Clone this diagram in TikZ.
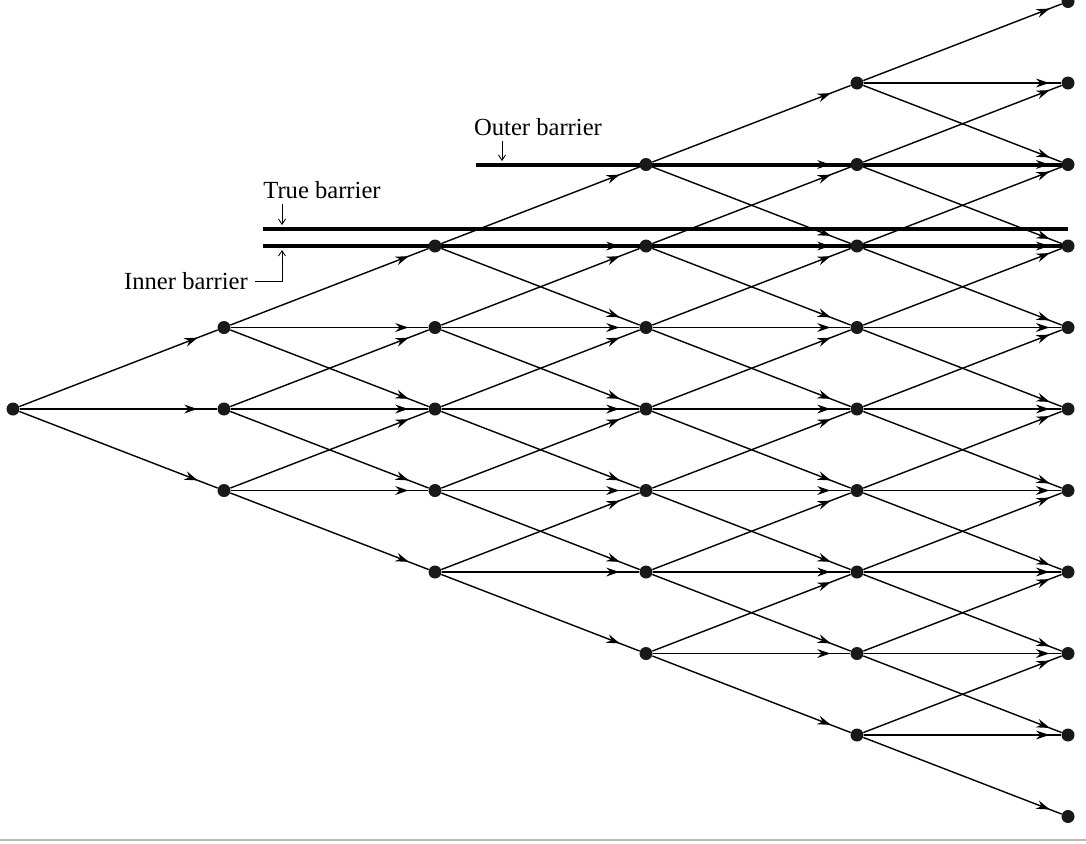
\documentclass[tikz,border=0pt]{standalone}
\usepackage{fontspec}
\setmainfont{Liberation Serif}
\usetikzlibrary{arrows.meta,decorations.markings}
\tikzset{
  dot/.style={circle,fill=black!90,inner sep=0pt,minimum size=0.26cm},
  branch/.style={line width=0.8pt,postaction={decorate},
    decoration={markings,mark=at position #1 with {\arrow{Stealth[length=7.5pt,width=5pt]}}}},
  branch/.default=0.9,
  barrier/.style={line width=2.3pt},
  tag/.style={font=\fontsize{14}{16}\selectfont,inner sep=1pt},
  tagarrow/.style={line width=0.5pt,-{Straight Barb[length=3pt,width=4pt]}}
}
\begin{document}
\begin{tikzpicture}[x=0.02cm,y=-0.02cm]
\useasboundingbox (0,0) rectangle (1086,843);
% barriers
\draw[barrier] (476,165) -- (1068,165);
\draw[barrier] (263,229) -- (1068,229);
\draw[barrier] (263,246) -- (1068,246);
\coordinate (ob) at (502,161); \coordinate (tb) at (282,225); \coordinate (ib) at (282,250);
\node[tag] (outer) at (538,127) {Outer barrier};
\node[tag] (true) at (322,190) {True barrier};
\node[tag] (inner) at (186,281) {Inner barrier};
\draw[tagarrow] ([yshift=-2pt]ob |- outer.south) -- (ob);
\draw[tagarrow] ([yshift=-2pt]tb |- true.south) -- (tb);
\draw[tagarrow] ([xshift=3pt]inner.east) -| (ib);
% tree
\foreach \i in {0,...,5}{
  \pgfmathtruncatemacro\kmax{2*\i}
  \foreach \k in {0,...,\kmax}
    \node[dot] (n\i-\k) at ({13+211*\i},{409+81.5*(\k-\i)}) {};
}
\foreach \i in {0,...,4}{
  \pgfmathtruncatemacro\kmax{2*\i}
  \pgfmathtruncatemacro\nxt{\i+1}
  \pgfmathsetmacro\apos{\i==4 ? 0.94 : 0.9}
  \foreach \k in {0,...,\kmax}{
    \pgfmathtruncatemacro\kb{\k+1}
    \pgfmathtruncatemacro\kc{\k+2}
    \foreach \t in {\k,\kb,\kc}
      \draw[branch=\apos] (n\i-\k) -- (n\nxt-\t);
  }
}
\draw[gray!55,line width=1.6pt] (0,840) -- (1086,840);
\end{tikzpicture}
\end{document}
